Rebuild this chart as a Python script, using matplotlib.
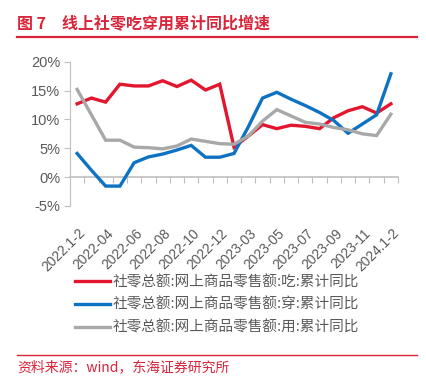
import matplotlib
matplotlib.use("Agg")
import matplotlib.pyplot as plt
from matplotlib.lines import Line2D
from matplotlib.transforms import ScaledTranslation

plt.rcParams['font.family'] = ['Liberation Sans', 'Noto Sans CJK SC', 'DejaVu Sans']

categories = ['2022.1-2', '2022-03', '2022-04', '2022-05', '2022-06', '2022-07', '2022-08',
              '2022-09', '2022-10', '2022-11', '2022-12', '2023.1-2', '2023-03', '2023-04',
              '2023-05', '2023-06', '2023-07', '2023-08', '2023-09', '2023-10', '2023-11',
              '2023-12', '2024.1-2']
food = [12.7, 13.7, 13.0, 16.1, 15.8, 15.8, 16.7, 15.7, 16.8, 15.1, 16.1, 5.2, 7.1, 9.1,
        8.4, 9.0, 8.8, 8.4, 10.3, 11.5, 12.2, 11.1, 12.7]
clothing = [4.1, 1.2, -1.55, -1.55, 2.5, 3.5, 4.0, 4.7, 5.5, 3.45, 3.45, 4.1, 8.7, 13.7,
            14.7, 13.5, 12.4, 11.2, 9.8, 7.6, 9.2, 10.8, 17.9]
daily = [15.2, 10.8, 6.4, 6.4, 5.2, 5.1, 4.9, 5.4, 6.6, 6.2, 5.8, 5.7, 7.1, 9.7, 11.7,
         10.6, 9.5, 9.2, 8.6, 8.2, 7.5, 7.2, 10.9]
series_names = ['社零总额:网上商品零售额:吃:累计同比',
                '社零总额:网上商品零售额:穿:累计同比',
                '社零总额:网上商品零售额:用:累计同比']
yticks = [-5, 0, 5, 10, 15, 20]

RED = '#E2162F'
BLUE = '#0E72C4'
GRAY = '#A8A8A8'
AX = '#BFBFBF'
TXT = '#595959'
TITLE_RED = '#D9243A'

W, H = 426, 382
fig = plt.figure(figsize=(W / 100, H / 100), dpi=100)
ax = fig.add_axes([70 / W, 1 - 206 / H, (398 - 70) / W, (206 - 61.7) / H])

x = list(range(len(categories)))
colors = [RED, BLUE, GRAY]
for vals, c in zip([food, clothing, daily], colors):
    ax.plot(x, vals, color=c, lw=2.4, solid_joinstyle='miter', zorder=3)

ax.set_xlim(-0.5, len(categories) - 0.5)
ax.set_ylim(-5, 20)
ax.set_yticks(yticks)
ax.set_yticklabels([f'{v}%' for v in yticks], color=TXT, fontsize=10.5)
ax.tick_params(axis='y', direction='out', length=4, width=0.8, color=AX, pad=3)

for s in ['top', 'right']:
    ax.spines[s].set_visible(False)
ax.spines['left'].set_color(AX)
ax.spines['left'].set_linewidth(0.8)
ax.spines['bottom'].set_position(('data', 0))
ax.spines['bottom'].set_color(AX)
ax.spines['bottom'].set_linewidth(1.2)
ax.set_xticks([i - 0.5 for i in range(1, len(categories) + 1)])
ax.set_xticklabels([])
ax.tick_params(axis='x', direction='out', length=4.5, width=0.8, color=AX)

sec = ax.secondary_xaxis(0.0)
sec.spines['bottom'].set_visible(False)
sec.set_xticks(x[::2])
sec.set_xticklabels(categories[::2], rotation=45, ha='right', va='center',
                    rotation_mode='anchor', color=TXT, fontsize=9.9)
sec.tick_params(axis='x', length=0, pad=18)
off = ScaledTranslation(6 / 100, 0, fig.dpi_scale_trans)
for lab in sec.get_xticklabels():
    lab.set_transform(lab.get_transform() + off)

# Title and rules
fig.text(17 / W, 1 - 24 / H, '图 7　线上社零吃穿用累计同比增速', color=TITLE_RED,
         fontsize=11.5, fontweight='bold', va='center', ha='left',
         family=['Noto Sans CJK SC'])
fig.add_artist(Line2D([17 / W, 417 / W], [1 - 36.8 / H, 1 - 36.8 / H], color=TITLE_RED, lw=1.6))
fig.add_artist(Line2D([17 / W, 417 / W], [1 - 355 / H, 1 - 355 / H], color=TITLE_RED, lw=1.0))
fig.text(17 / W, 1 - 367.5 / H, '资料来源：wind，东海证券研究所', color=TITLE_RED,
         fontsize=10, va='center', ha='left', family=['Noto Sans CJK SC', 'DejaVu Sans'])

handles = [Line2D([], [], color=c, lw=2.4) for c in colors]
leg = fig.legend(handles, series_names, loc='upper left',
                 bbox_to_anchor=(72 / W, 1 - 272 / H), frameon=False,
                 handlelength=2.4, handletextpad=0.2,
                 labelspacing=0.58, borderaxespad=0, borderpad=0.2,
                 prop={'family': ['Noto Sans CJK SC'], 'size': 10.5})
for t in leg.get_texts():
    t.set_color(TXT)

fig.savefig('out.png', dpi=100)
